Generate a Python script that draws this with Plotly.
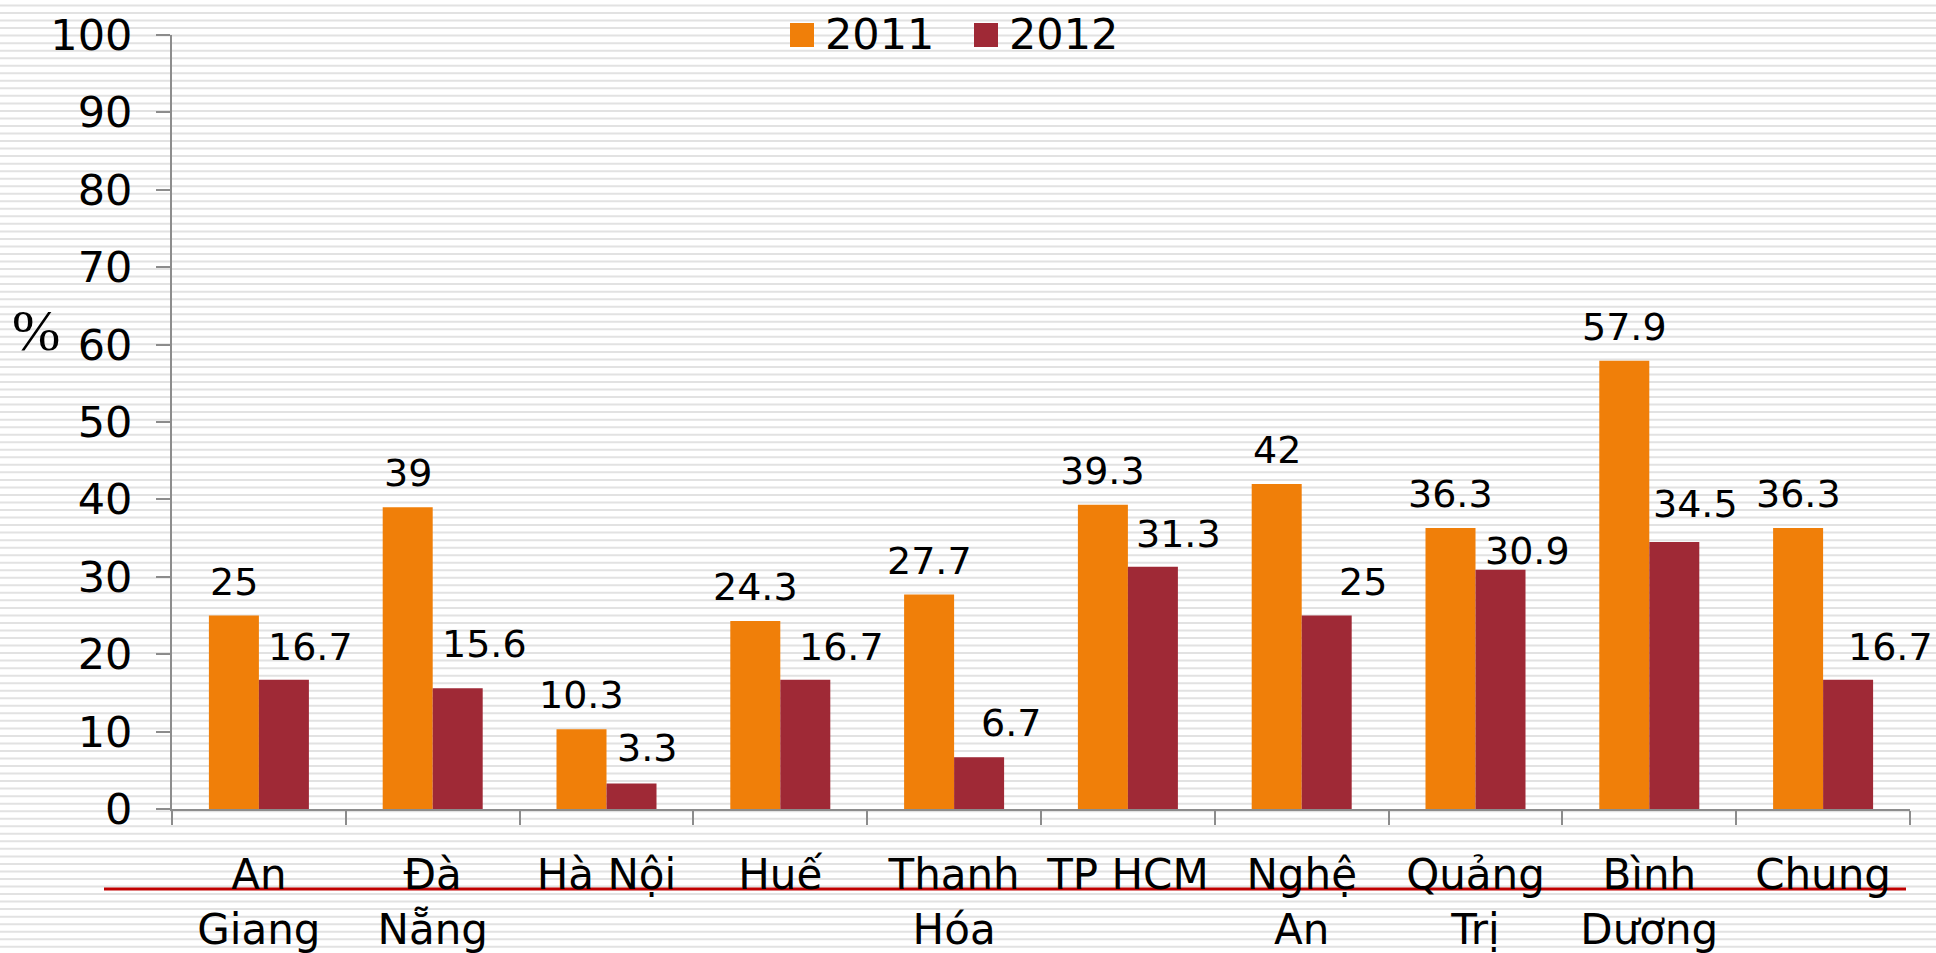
import plotly.graph_objects as go

# ---------------- data ----------------
categories = ["An<br>Giang", "Đà<br>Nẵng", "Hà Nội", "Huế", "Thanh<br>Hóa",
              "TP HCM", "Nghệ<br>An", "Quảng<br>Trị", "Bình<br>Dương", "Chung"]
values_2011 = [25, 39, 10.3, 24.3, 27.7, 39.3, 42, 36.3, 57.9, 36.3]
values_2012 = [16.7, 15.6, 3.3, 16.7, 6.7, 31.3, 25, 30.9, 34.5, 16.7]
series_names = ["2011", "2012"]
y_tick_values = [0, 10, 20, 30, 40, 50, 60, 70, 80, 90, 100]
y_axis_label = "%"

# ---------------- style ----------------
COLORS = ["#F07F09", "#9F2936"]
FONT = "DejaVu Sans, Verdana, sans-serif"
W, H = 1936, 953
ML, MR, MT, MB = 172, 26, 35, 144
PW, PH = W - ML - MR, H - MT - MB
CAT_W = PW / len(categories)
BAR_W = 50

# per-label nudges of the 2012 labels (pixels: right shift, gap above bar)
LABEL_DX_2012 = [27, 27, 15, 36, 32, 26, 36, 27, 21, 42]
LABEL_GAP_2012 = [19, 30, 21, 19, 20, 19, 20, 5, 24, 19]
LABEL_GAP_2011 = 20


def px_x(px):
    return (px - ML) / PW


def px_y(py):
    return (H - MB - py) / PH


fig = go.Figure()
for name, vals, col in zip(series_names, [values_2011, values_2012], COLORS):
    fig.add_trace(go.Bar(x=categories, y=vals, name=name, marker_color=col,
                         marker_line_width=0, showlegend=False))

annotations = []
LBL = 38
for i, c in enumerate(categories):
    annotations.append(dict(x=c, y=values_2011[i], xref="x", yref="y",
                            text=f"{values_2011[i]:g}", showarrow=False,
                            xanchor="center", yanchor="middle",
                            xshift=-BAR_W / 2, yshift=LABEL_GAP_2011 + 14,
                            font=dict(family=FONT, size=LBL, color="black")))
    annotations.append(dict(x=c, y=values_2012[i], xref="x", yref="y",
                            text=f"{values_2012[i]:g}", showarrow=False,
                            xanchor="center", yanchor="middle",
                            xshift=BAR_W / 2 + LABEL_DX_2012[i],
                            yshift=LABEL_GAP_2012[i] + 14,
                            font=dict(family=FONT, size=LBL, color="black")))

# y-axis unit label
annotations.append(dict(x=px_x(36), y=px_y(330), xref="paper", yref="paper",
                        text=y_axis_label, showarrow=False,
                        xanchor="center", yanchor="middle",
                        font=dict(family="Liberation Serif, Times New Roman, serif",
                                  size=58, color="black")))

shapes = []
# striped background
k = 0
while True:
    yy = 5.5 + k * 7.53
    if yy > H:
        break
    shapes.append(dict(type="line", xref="paper", yref="paper",
                       x0=px_x(0), x1=px_x(W), y0=px_y(yy), y1=px_y(yy),
                       line=dict(color="#e2e2e2", width=2), layer="below"))
    k += 1

# red rule under the chart
shapes.append(dict(type="line", xref="paper", yref="paper",
                   x0=px_x(104), x1=px_x(1906), y0=px_y(889), y1=px_y(889),
                   line=dict(color="#C00000", width=3), layer="below"))

# manual legend
legend_items = [(790, 826), (974, 1010)]
for (sx, tx), name, col in zip(legend_items, series_names, COLORS):
    shapes.append(dict(type="rect", xref="paper", yref="paper",
                       x0=px_x(sx), x1=px_x(sx + 24), y0=px_y(23), y1=px_y(47),
                       fillcolor=col, line=dict(width=0)))
    annotations.append(dict(x=px_x(tx - 3), y=px_y(34), xref="paper", yref="paper",
                            text=name, showarrow=False, xanchor="left",
                            yanchor="middle",
                            font=dict(family=FONT, size=43, color="black")))

fig.update_layout(
    width=W, height=H,
    margin=dict(l=ML, r=MR, t=MT, b=MB, pad=0, autoexpand=False),
    paper_bgcolor="white", plot_bgcolor="rgba(0,0,0,0)",
    barmode="group", bargap=1 - 2 * BAR_W / CAT_W, bargroupgap=0,
    showlegend=False,
    annotations=annotations, shapes=shapes,
    font=dict(family=FONT, color="black"),
)
fig.update_yaxes(range=[0, 100], tickvals=y_tick_values, showgrid=False,
                 zeroline=False, showline=True, linecolor="#8c8c8c", linewidth=2,
                 ticks="outside", ticklen=14, tickwidth=2, tickcolor="#8c8c8c",
                 tickfont=dict(family=FONT, size=43, color="black"),
                 ticklabelstandoff=15, automargin=False)
fig.update_xaxes(range=[-0.5, len(categories) - 0.5],
                 showgrid=False, showline=True, linecolor="#8c8c8c", linewidth=2,
                 ticks="outside", ticklen=14, tickwidth=2, tickcolor="#8c8c8c",
                 tickson="boundaries", tickangle=0,
                 tickfont=dict(family=FONT, size=42, color="black"),
                 ticklabelstandoff=28, automargin=False)

fig.write_html("out.html", config={"displayModeBar": False},
               post_script="document.body.style.margin='0';")
